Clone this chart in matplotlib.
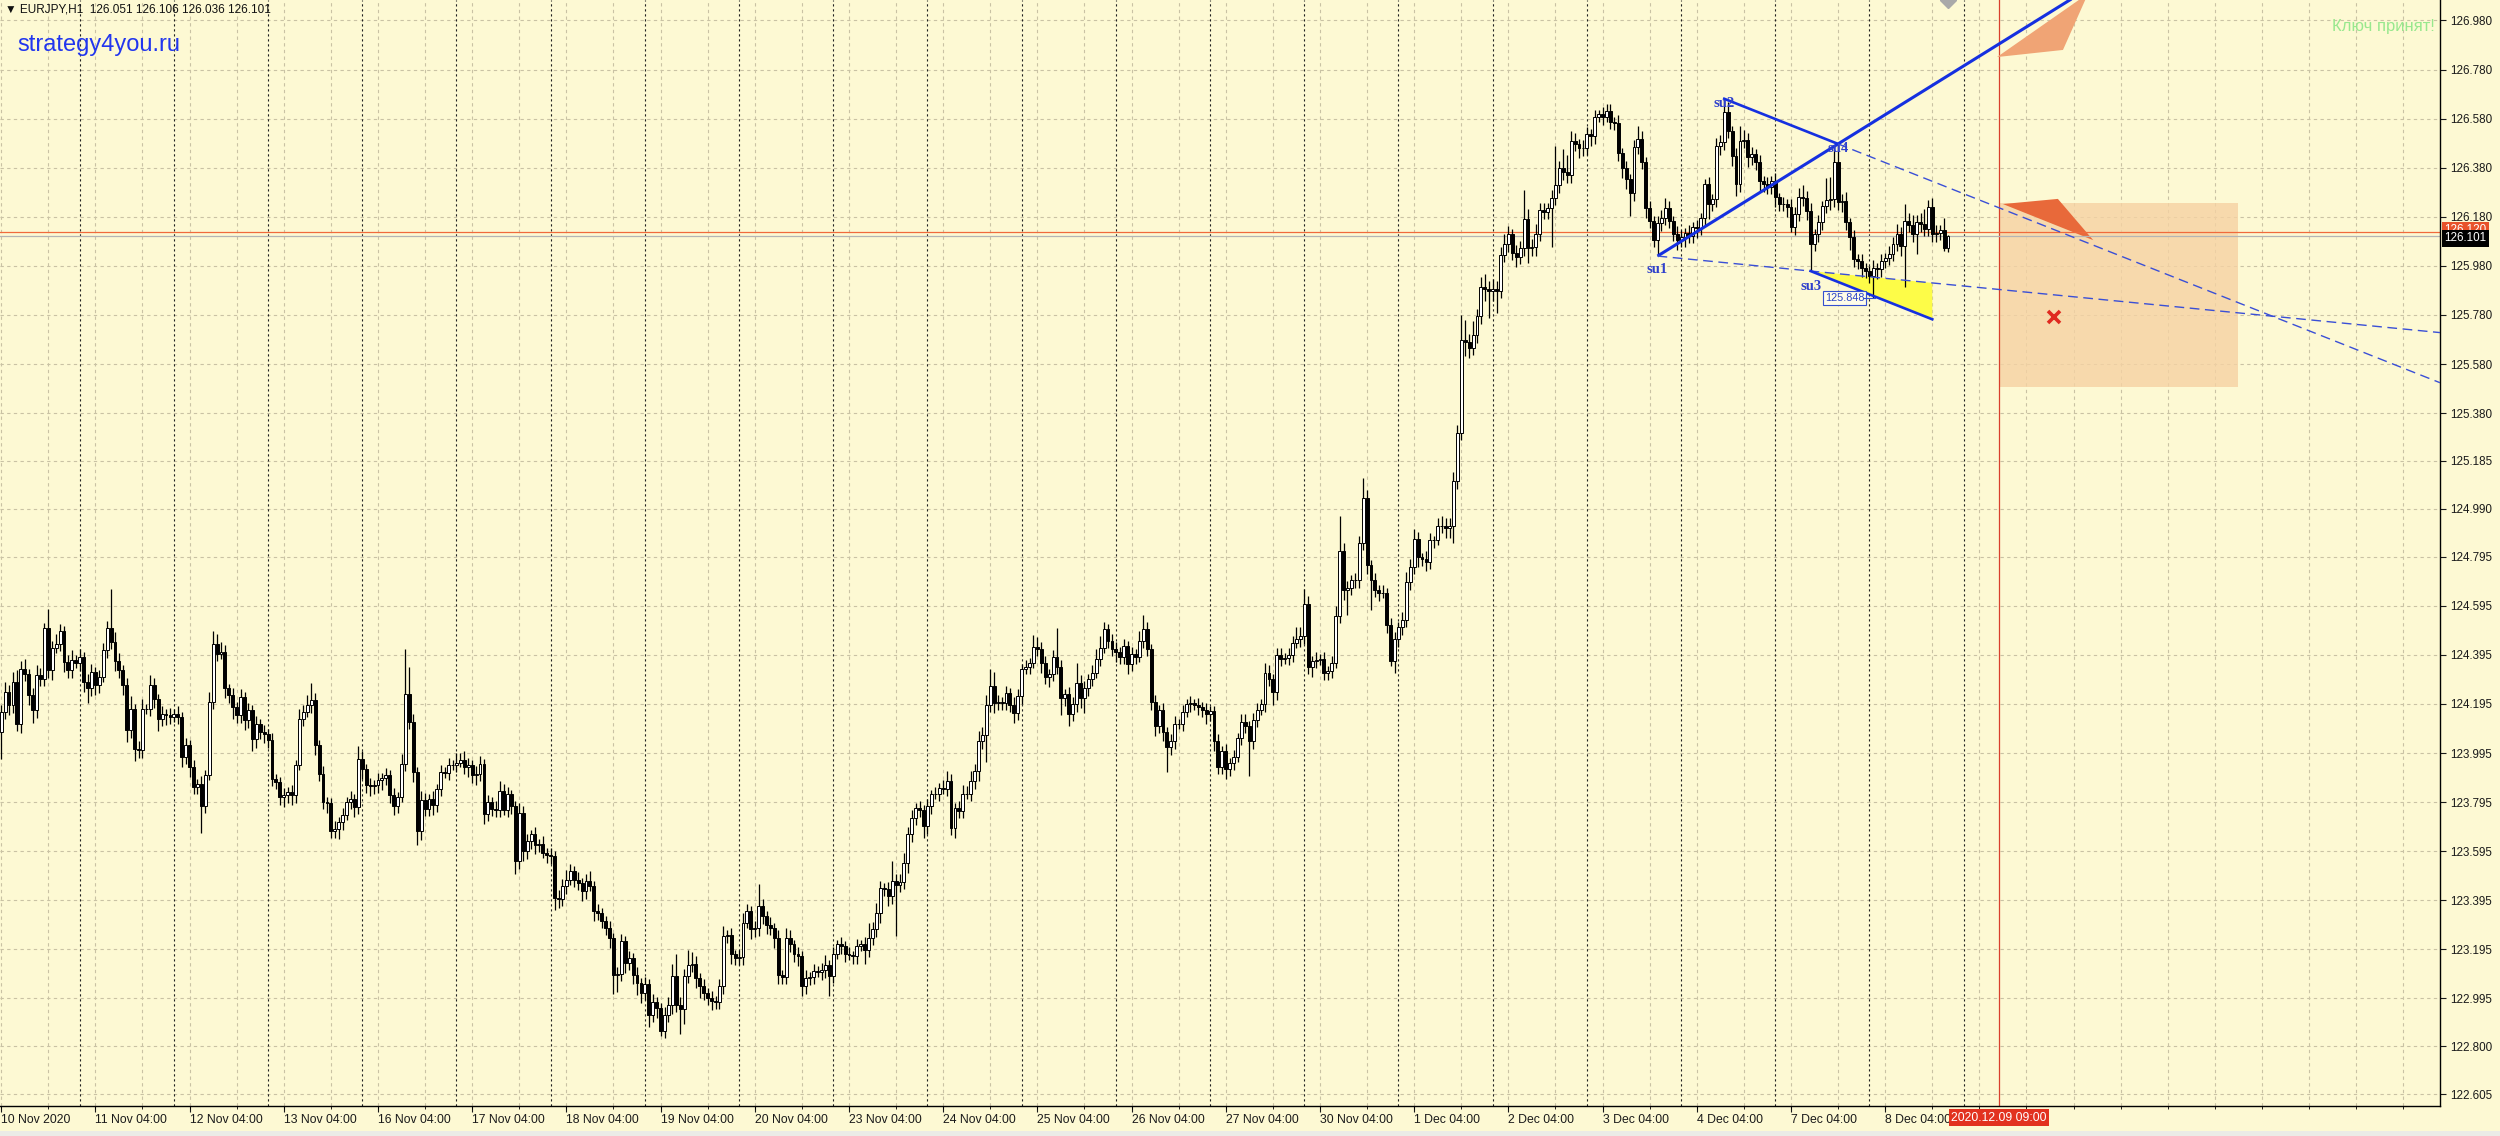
import numpy as np
import matplotlib
matplotlib.use("Agg")
import matplotlib.pyplot as plt
from matplotlib.patches import Rectangle, Polygon

# EURJPY H1 bars, 10 Nov 2020 04:00 .. 8 Dec 2020 20:00 (one bar per hour, no weekends)
first_open = 124.081
close = [
    # 10 - 13 Nov
    124.162, 124.244, 124.19, 124.285, 124.115, 124.339, 124.319, 124.23, 124.169, 124.312,
    124.298, 124.503, 124.332, 124.421, 124.441, 124.492, 124.366, 124.332, 124.373, 124.36,
    124.387, 124.285, 124.258, 124.326, 124.271, 124.305, 124.414, 124.503, 124.448, 124.371,
    124.332, 124.271, 124.088, 124.176, 124.013, 124.006, 124.176, 124.176, 124.271, 124.217,
    124.135, 124.156, 124.149, 124.142, 124.156, 124.142, 123.979, 124.026, 123.938, 123.856,
    123.87, 123.781, 123.904, 124.203, 124.441, 124.40, 124.407, 124.258, 124.23, 124.183,
    124.149, 124.224, 124.128, 124.169, 124.054, 124.115, 124.081, 124.074, 124.047, 123.89,
    123.877, 123.815, 123.822, 123.836, 123.822, 123.945, 124.135, 124.162, 124.19, 124.21,
    124.026, 123.911, 123.795, 123.792, 123.679, 123.686, 123.713, 123.741, 123.795, 123.809,
    123.775, 123.972, 123.931, 123.863, 123.86, 123.863, 123.883, 123.893, 123.904, 123.822,
    123.781, 123.815, 123.952, 124.237, 124.122, 123.917, 123.679, 123.802, 123.768, 123.809,
    123.784, 123.849, 123.917, 123.915, 123.945, 123.948, 123.956, 123.965, 123.938, 123.945,
    123.904, 123.911, 123.952, 123.747, 123.795, 123.768,
    # 16 - 23 Nov
    123.764, 123.839, 123.764, 123.826, 123.778, 123.554, 123.751, 123.595, 123.635, 123.663,
    123.622, 123.625, 123.588, 123.578, 123.574, 123.405, 123.402, 123.452, 123.479, 123.513,
    123.479, 123.466, 123.432, 123.473, 123.452, 123.35, 123.344, 123.31, 123.282, 123.242,
    123.092, 123.095, 123.228, 123.14, 123.16, 123.092, 123.058, 123.018, 123.054, 122.929,
    122.981, 122.957, 122.862, 122.929, 122.97, 123.086, 122.97, 122.95, 123.086, 123.133,
    123.136, 123.079, 123.045, 123.018, 122.997, 122.986, 122.981, 123.045, 123.249, 123.253,
    123.174, 123.16, 123.163, 123.303, 123.35, 123.276, 123.28, 123.371, 123.33, 123.296,
    123.282, 123.242, 123.092, 123.082, 123.242, 123.215, 123.174, 123.167, 123.045, 123.079,
    123.082, 123.106, 123.102, 123.109, 123.133, 123.086, 123.174, 123.215, 123.208, 123.174,
    123.17, 123.167, 123.208, 123.215, 123.194, 123.242, 123.276, 123.344, 123.445, 123.441,
    123.411, 123.473, 123.459, 123.47, 123.547, 123.663, 123.731, 123.771, 123.764, 123.697,
    123.778, 123.826, 123.828, 123.853, 123.849, 123.88, 123.69, 123.771, 123.76, 123.826,
    123.83, 123.88, 123.921, 124.043, 124.07, 124.192, 124.267, 124.199, 124.203, 124.2,
    124.24, 124.192, 124.158,
    # 24 - 30 Nov
    124.226, 124.338, 124.346, 124.362, 124.427, 124.419, 124.362, 124.306, 124.319, 124.386,
    124.346, 124.218, 124.234, 124.154, 124.194, 124.282, 124.218, 124.258, 124.298, 124.322,
    124.378, 124.422, 124.499, 124.451, 124.419, 124.406, 124.386, 124.431, 124.358, 124.399,
    124.386, 124.451, 124.499, 124.419, 124.202, 124.106, 124.17, 124.082, 124.018, 124.042,
    124.114, 124.114, 124.162, 124.194, 124.197, 124.191, 124.181, 124.17, 124.154, 124.165,
    124.042, 123.938, 124.002, 123.93, 123.954, 123.978, 124.058, 124.122, 124.106, 124.042,
    124.13, 124.17, 124.194, 124.322, 124.298, 124.242, 124.394, 124.378, 124.383, 124.394,
    124.443, 124.459, 124.47, 124.603, 124.346, 124.37, 124.375, 124.378, 124.322, 124.33,
    124.362, 124.555, 124.819, 124.659, 124.667, 124.699, 124.699, 124.851, 125.036, 124.763,
    124.699, 124.659, 124.646, 124.648, 124.515, 124.37, 124.459, 124.507, 124.539, 124.691,
    124.755, 124.867,
    # 30 Nov - 3 Dec
    124.792, 124.787, 124.775, 124.861, 124.861, 124.921, 124.921, 124.913, 124.921, 125.102,
    125.301, 125.68, 125.671, 125.646, 125.697, 125.775, 125.896, 125.887, 125.878, 125.887,
    125.878, 126.025, 126.068, 126.111, 126.034, 126.016, 126.051, 126.171, 126.051, 126.059,
    126.111, 126.206, 126.201, 126.215, 126.258, 126.309, 126.378, 126.361, 126.349, 126.49,
    126.477, 126.459, 126.461, 126.516, 126.508, 126.585, 126.597, 126.585, 126.611, 126.568,
    126.563, 126.439, 126.378, 126.335, 126.275, 126.465, 126.499, 126.404, 126.215, 126.163,
    126.085, 126.154, 126.177, 126.215, 126.163, 126.111, 126.085,
    # 3 - 8 Dec
    126.096, 126.116, 126.103, 126.137, 126.134, 126.177, 126.313, 126.232, 126.252, 126.47,
    126.483, 126.606, 126.531, 126.429, 126.313, 126.49, 126.493, 126.422, 126.436, 126.402,
    126.327, 126.313, 126.303, 126.327, 126.259, 126.232, 126.232, 126.221, 126.137, 126.191,
    126.259, 126.256, 126.205, 126.069, 126.109, 126.157, 126.225, 126.248, 126.252, 126.402,
    126.239, 126.243, 126.157, 126.096, 126.007, 125.998, 125.973, 125.96, 125.939, 125.973,
    125.966, 126.0, 126.014, 126.03, 126.069, 126.109, 126.062, 126.164, 126.147, 126.109,
    126.157, 126.15, 126.13, 126.218, 126.109, 126.116, 126.126, 126.051, 126.101,
]
# shadows above / below the body, in pips
wick_up = [
    3, 4, 3, 4, 5, 3, 4, 2, 3, 4, 3, 2, 8, 3, 4, 3, 2, 3, 4, 2,
    3, 2, 3, 3, 2, 3, 3, 3, 16, 4, 3, 2, 3, 5, 2, 3, 4, 2, 4, 3,
    2, 3, 2, 3, 2, 3, 2, 3, 2, 3, 2, 3, 2, 4, 5, 4, 4, 3, 2, 3,
    2, 3, 2, 3, 2, 3, 2, 3, 2, 3, 2, 2, 3, 2, 3, 2, 4, 3, 4, 7,
    3, 2, 3, 2, 2, 3, 2, 3, 2, 3, 2, 5, 3, 2, 3, 2, 3, 2, 3, 2,
    3, 2, 4, 18, 11, 3, 2, 4, 3, 2, 3, 2, 3, 2, 3, 2, 4, 3, 4, 3,
    2, 3, 3, 2, 3, 2,
    3, 4, 3, 3, 2, 2, 4, 3, 3, 2, 3, 2, 3, 2, 3, 2, 3, 3, 4, 3,
    2, 3, 2, 3, 4, 2, 3, 2, 2, 3, 2, 3, 3, 2, 3, 2, 3, 2, 3, 2,
    3, 2, 2, 3, 3, 5, 9, 3, 3, 6, 5, 3, 2, 3, 2, 3, 2, 3, 4, 2,
    3, 2, 3, 4, 3, 2, 3, 9, 3, 2, 3, 2, 3, 2, 4, 3, 2, 3, 2, 3,
    2, 3, 2, 3, 4, 2, 3, 2, 3, 2, 3, 2, 3, 2, 3, 6, 3, 4, 3, 2,
    3, 8, 3, 3, 4, 3, 3, 2, 3, 2, 3, 2, 3, 2, 3, 4, 3, 2, 3, 4,
    3, 4, 3, 4, 3, 4, 7, 6, 3, 2, 3, 2, 3,
    3, 2, 3, 2, 5, 4, 3, 3, 2, 3, 12, 3, 2, 3, 3, 8, 3, 3, 2, 3,
    4, 5, 3, 2, 3, 3, 2, 3, 2, 3, 2, 4, 6, 3, 2, 3, 2, 3, 2, 3,
    3, 2, 3, 2, 3, 2, 3, 2, 3, 2, 2, 3, 2, 3, 2, 3, 2, 3, 3, 2,
    3, 3, 2, 4, 3, 2, 3, 3, 2, 3, 3, 5, 4, 6, 3, 2, 3, 2, 3, 2,
    3, 4, 14, 3, 3, 2, 3, 3, 8, 3, 2, 3, 2, 3, 2, 3, 3, 2, 3, 4,
    3, 4,
    3, 2, 3, 3, 2, 3, 4, 3, 3, 4, 3, 10, 8, 3, 6, 3, 4, 5, 3, 4,
    3, 3, 4, 3, 2, 3, 3, 12, 4, 3, 4, 3, 3, 2, 3, 16, 3, 8, 7, 4,
    3, 2, 3, 3, 2, 3, 2, 3, 3, 3, 2, 3, 2, 3, 2, 3, 5, 3, 2, 3,
    2, 3, 3, 4, 3, 2, 3,
    3, 2, 3, 2, 3, 2, 2, 3, 2, 3, 3, 5.5, 4, 2, 3, 6, 4, 3, 3, 2,
    3, 2, 3, 2, 3, 2, 3, 2, 3, 3, 4, 5, 3, 3, 2, 3, 2, 9, 9, 5,
    7.5, 3, 4, 2, 3, 2, 3, 2, 2, 3, 2, 3, 2, 3, 3, 4, 3, 7, 3, 4,
    3, 4, 6, 3, 4, 3, 2, 5, 0.5,
]
wick_dn = [
    11, 3, 4, 3, 3, 4, 3, 4, 5, 3, 3, 3, 3, 4, 2, 3, 4, 3, 3, 2,
    3, 4, 6, 3, 4, 3, 2, 3, 3, 4, 3, 4, 5, 3, 5, 3, 3, 2, 3, 4,
    5, 3, 4, 3, 2, 3, 4, 3, 4, 3, 3, 11, 3, 2, 3, 3, 2, 4, 3, 5,
    3, 3, 4, 3, 5, 4, 3, 4, 3, 3, 3, 3, 4, 3, 4, 3, 2, 3, 2, 3,
    4, 3, 3, 4, 3, 3, 4, 3, 2, 3, 4, 3, 4, 3, 4, 3, 3, 4, 3, 3,
    4, 3, 2, 3, 3, 4, 6, 4, 3, 3, 4, 3, 3, 2, 3, 2, 3, 2, 3, 4,
    3, 4, 3, 4, 3, 3,
    3, 3, 2, 3, 3, 5, 3, 4, 3, 3, 4, 3, 2, 3, 3, 5, 4, 3, 3, 2,
    3, 3, 4, 3, 2, 4, 3, 3, 3, 4, 8, 7, 3, 4, 3, 4, 5, 4, 3, 5,
    3, 4, 2, 3, 3, 4, 3, 10, 6, 3, 3, 4, 5, 3, 3, 4, 3, 3, 3, 3,
    4, 3, 3, 3, 2, 4, 3, 3, 3, 4, 3, 4, 4, 3, 3, 3, 3, 4, 4, 3,
    3, 3, 2, 3, 3, 8, 3, 2, 3, 3, 2, 3, 3, 2, 6, 3, 3, 3, 4, 3,
    4, 3, 21, 3, 3, 4, 3, 3, 3, 5, 3, 3, 2, 3, 2, 3, 3, 4, 3, 3,
    2, 3, 3, 4, 3, 11, 3, 4, 3, 3, 3, 3, 4,
    3, 3, 2, 3, 2, 3, 4, 3, 4, 3, 3, 7, 3, 5, 3, 3, 4, 6, 3, 3,
    2, 3, 2, 3, 3, 4, 3, 3, 4, 3, 3, 2, 3, 3, 3, 4, 3, 4, 10, 3,
    3, 2, 3, 2, 3, 2, 3, 3, 4, 3, 4, 3, 3, 4, 3, 3, 2, 3, 3, 14,
    3, 3, 2, 3, 3, 5, 3, 3, 2, 3, 3, 2, 3, 3, 3, 4, 3, 2, 3, 3,
    3, 2, 3, 4, 10, 3, 3, 3, 3, 4, 12, 3, 3, 2, 3, 2, 5, 3, 3, 3,
    3, 3,
    4, 3, 4, 3, 3, 2, 3, 4, 4, 7, 3, 3, 6, 4, 3, 3, 3, 5, 11, 4,
    9, 3, 3, 3, 3, 4, 3, 3, 6, 3, 4, 3, 3, 3, 16, 3, 3, 3, 3, 3,
    3, 4, 3, 3, 4, 3, 2, 3, 2, 3, 3, 3, 4, 4, 9, 3, 3, 3, 4, 3,
    3, 6.5, 3, 3, 3, 3, 4,
    3, 4, 3, 3, 4, 3, 3, 6, 3, 3, 4, 3, 3, 4, 5, 3, 3, 4, 3, 3,
    4, 3, 3, 3, 4, 3, 3, 4, 2, 3, 3, 3, 4, 11, 3, 3, 3, 3, 4, 3,
    3, 4, 3, 5, 3, 3, 4, 3, 3, 9.1, 4, 3, 3, 3, 3, 3, 4, 17, 3, 3,
    8, 3, 3, 3, 3, 3, 3, 1, 1.5,
]

first_label = "10 Nov 2020"
day_labels = ["11 Nov", "12 Nov", "13 Nov", "16 Nov", "17 Nov", "18 Nov", "19 Nov",
              "20 Nov", "23 Nov", "24 Nov", "25 Nov", "26 Nov", "27 Nov", "30 Nov",
              "1 Dec", "2 Dec", "3 Dec", "4 Dec", "7 Dec", "8 Dec"]
first_bar_hour = 4
y_ticks = [126.980, 126.780, 126.580, 126.380, 126.180, 125.980, 125.780, 125.580,
           125.380, 125.185, 124.990, 124.795, 124.595, 124.395, 124.195, 123.995,
           123.795, 123.595, 123.395, 123.195, 122.995, 122.800, 122.605]
ask_level = 126.120

# analysis objects, in bar index / price
su_bars = {"su1": 422, "su2": 439, "su3": 461, "su4": 468}
channel_end = 492
low_bar = 477
future_bar = 509
future_label = "2020.12.09 09:00"
box_bars = (509, 570)
box_prices = (125.486, 126.236)
tri_light = [(508.5, 126.831), (531.7, 127.09), (525.3, 126.86)]
tri_dark = [(510, 126.232), (524, 126.253), (533, 126.085)]
cross_point = (523, 125.772)

bg = "#fdf9d3"
gridc = "#c9c2a4"
W, H = 2500, 1136
X_AX, Y_AX = 2440, 1106

c = np.array(close)
o = np.r_[first_open, c[:-1]]          # an H1 bar opens at the previous close
h = np.maximum(o, c) + np.array(wick_up) / 100
l = np.minimum(o, c) - np.array(wick_dn) / 100
x = np.arange(len(c))
rising = c >= o

fig = plt.figure(figsize=(W / 100, H / 100), dpi=100)
fig.patch.set_facecolor(bg)
ax = fig.add_axes([0, 1 - Y_AX / H, X_AX / W, Y_AX / H])
ax.set_facecolor(bg)
xmax = -0.3 + X_AX / 3.925
ax.set_xlim(-0.3, xmax)
ax.set_ylim(127.0635 - Y_AX / 245.4, 127.0635)

for s in ["left", "top"]:
    ax.spines[s].set_visible(False)
for s in ["right", "bottom"]:
    ax.spines[s].set_color("black")
    ax.spines[s].set_linewidth(1)

# price axis
ax.yaxis.tick_right()
ax.set_yticks(y_ticks)
ax.set_yticklabels([f"{v:.3f}" for v in y_ticks])
ax.tick_params(axis="y", length=4, width=0.8, pad=3, labelsize=8.4, colors="#1a1a1a")
ax.yaxis.grid(True, ls=(0, (3, 3)), color=gridc, lw=0.8)

# time axis
label_bars = [0] + [24 * (k + 1) for k in range(len(day_labels))]
labels = [first_label] + [d + " 04:00" for d in day_labels]
ax.set_xticks(label_bars)
ax.set_xticklabels(labels)
ax.set_xticks(np.arange(0, xmax, 12), minor=True)
ax.xaxis.remove_overlapping_locs = False
ax.xaxis.grid(True, which="minor", ls=(0, (3, 3)), color=gridc, lw=0.8)
ax.tick_params(axis="x", which="major", length=4, width=0.8, pad=2, labelsize=8.8, colors="#1a1a1a")
ax.tick_params(axis="x", which="minor", length=2, width=0.6)
for t in ax.get_xticklabels():
    t.set_ha("left")
for t in ax.get_xticklabels() + ax.get_yticklabels():
    t.set_family(["Liberation Sans", "DejaVu Sans"])
ax.set_axisbelow(True)

# day separators
for k in range(len(day_labels) + 1):
    ax.axvline(24 - first_bar_hour + 24 * k, color="#202020", lw=0.8, ls=(0, (2, 2.5)), zorder=0.8)

# future zone
ax.add_patch(Rectangle((box_bars[0], box_prices[0]), box_bars[1] - box_bars[0],
                       box_prices[1] - box_prices[0], fc="#f6d2a3", alpha=0.8, lw=0, zorder=1))
ax.axvline(future_bar, color="#d8402c", lw=0.9, zorder=1.5)
ax.add_patch(Polygon(tri_light, closed=True, fc="#f0a475", lw=0, zorder=1.6))
ax.add_patch(Polygon(tri_dark, closed=True, fc="#e8693a", lw=0, zorder=1.6))
ax.plot(*cross_point, marker="x", ms=9, mew=2.6, color="#e02a20", zorder=5)
ax.plot(len(c) - 1, ax.get_ylim()[1], marker="D", ms=8, color="#a9a9a9", zorder=5)

# bid / ask lines
ax.axhline(ask_level, color="#f06a3c", lw=0.9, zorder=1.7)
ax.axhline(c[-1], color="#b4b4b4", lw=0.9, zorder=1.7)

# trend lines
def line_y(p1, p2, xs):
    k = (p2[1] - p1[1]) / (p2[0] - p1[0])
    return p1[1] + k * (np.asarray(xs, dtype=float) - p1[0])

su1 = (su_bars["su1"], l[su_bars["su1"]])
su2 = (su_bars["su2"], h[su_bars["su2"]])
su3 = (su_bars["su3"], l[su_bars["su3"]])
su4 = (su_bars["su4"], h[su_bars["su4"]])
slope24 = (su4[1] - su2[1]) / (su4[0] - su2[0])
chan = (channel_end, su3[1] + slope24 * (channel_end - su3[0]))

ax.add_patch(Polygon([su3, (channel_end, line_y(su1, su3, channel_end)), chan],
                     closed=True, fc="#fdfc48", lw=0, zorder=1.8))

blue = "#1530e0"
dblue = "#3a4fd6"
xs = [su1[0], xmax]
ax.plot(xs, line_y(su1, su4, xs), color=blue, lw=2.2, zorder=6, solid_capstyle="butt")
ax.plot([su2[0], su4[0]], [su2[1], su4[1]], color=blue, lw=1.9, zorder=6)
xs = [su4[0], xmax]
ax.plot(xs, line_y(su2, su4, xs), color=dblue, lw=1.0, ls=(0, (7, 4)), zorder=6)
xs = [su1[0], xmax]
ax.plot(xs, line_y(su1, su3, xs), color=dblue, lw=1.0, ls=(0, (7, 4)), zorder=6)
ax.plot([su3[0], chan[0]], [su3[1], chan[1]], color=blue, lw=1.9, zorder=6)

su_off = {"su1": -10, "su2": -3.5, "su3": -11, "su4": -3.5}
for name, p in zip(["su1", "su2", "su3", "su4"], [su1, su2, su3, su4]):
    ax.annotate(name, p, xytext=(0, su_off[name]), textcoords="offset points",
                ha="center", va="center", fontsize=10.5, fontweight="bold",
                family="Liberation Serif", color="#2f40cc", zorder=7)

ax.annotate(f"{l[low_bar]:.3f}", (low_bar - 2.3, l[low_bar]), ha="right", va="center",
            fontsize=7.8, color="#2a44c8", family="Liberation Sans", zorder=7,
            bbox=dict(boxstyle="square,pad=0.18", fc="#fffde8", ec="#3450d0", lw=0.8))
ax.plot([low_bar - 2.3, low_bar + 0.4], [l[low_bar]] * 2, color="#3450d0", lw=0.8, zorder=7)

# candles
ax.vlines(x, l, h, color="black", lw=0.9, zorder=3)
ax.bar(x[rising], (c - o)[rising], bottom=o[rising], width=0.74, color="white",
       edgecolor="black", lw=0.7, zorder=4)
ax.bar(x[~rising], (o - c)[~rising], bottom=c[~rising], width=0.74, color="black",
       edgecolor="black", lw=0.7, zorder=4)

# price labels on the axis
lab = dict(xycoords=("axes fraction", "data"), textcoords="offset points", ha="left",
           va="center", fontsize=8.4, color="white", family="Liberation Sans",
           annotation_clip=False)
ax.annotate(f"{ask_level:.3f}", (1, ask_level), xytext=(3, 1), zorder=8,
            bbox=dict(boxstyle="square,pad=0.2", fc="#e8522a", ec="none"), **lab)
ax.annotate(f"{c[-1]:.3f}", (1, c[-1]), xytext=(3, -1.5), zorder=9,
            bbox=dict(boxstyle="square,pad=0.2", fc="black", ec="none"), **lab)
ax.annotate(future_label, (future_bar, 0), xycoords=("data", "axes fraction"),
            xytext=(0, -8.5), textcoords="offset points", ha="center", va="center",
            fontsize=8.8, color="white", family="Liberation Sans", annotation_clip=False,
            bbox=dict(boxstyle="square,pad=0.2", fc="#e2321f", ec="none"), zorder=9)

# texts
fig.text(5 / W, 1 - 9 / H, "▼ EURJPY,H1  " + " ".join(f"{v:.3f}" for v in [o[-1], h[-1], l[-1], c[-1]]),
         fontsize=8.5, va="center", ha="left", color="#111111",
         family=["Liberation Sans", "DejaVu Sans"])
fig.text(17 / W, 1 - 45 / H, "strategy4you.ru", fontsize=17, va="center", ha="left",
         color="#2236ee", family="Liberation Sans")
fig.text(2435 / W, 1 - 27 / H, "Ключ принят!", fontsize=12, va="center", ha="right",
         color="#98e88e", family="Liberation Sans")
fig.patches.append(Rectangle((0, 0), 1, 5 / H, transform=fig.transFigure, fc="#ebebe6", lw=0))

fig.savefig("out.png", dpi=100, facecolor=bg)
